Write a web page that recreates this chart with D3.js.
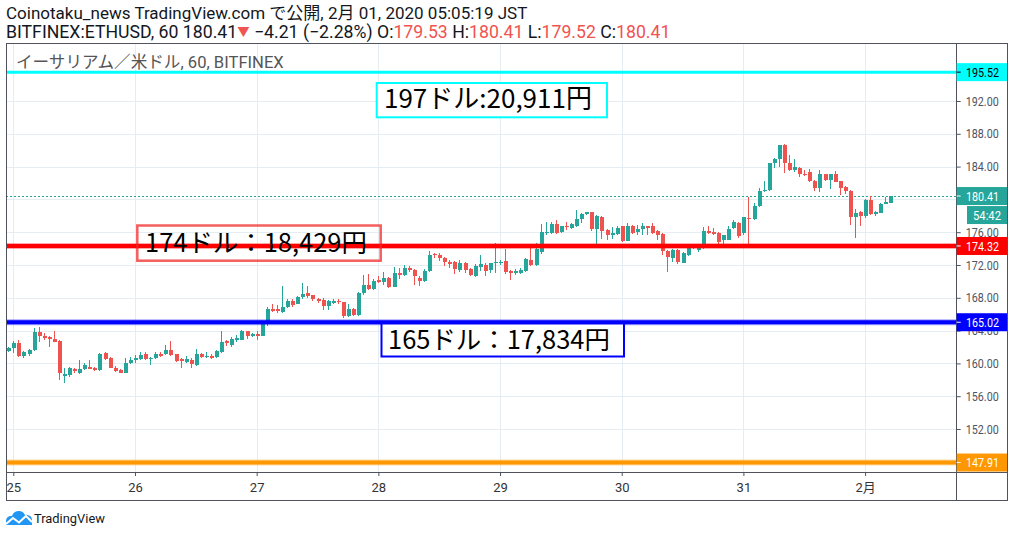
<!DOCTYPE html>
<html><head><meta charset="utf-8">
<script src="https://cdn.jsdelivr.net/npm/d3@7"></script>
<style>body{margin:0;background:#fff}svg{display:block}</style>
</head><body><svg id="c" width="1014" height="537"></svg>
<script>
// ---- data ----
const firstCandle = "2020-01-24T23:00:00Z"; // hourly candles (JST wall clock)
const opens = [161.55,161.9,162.5,160.95,161.1,161.6,163.85,163.35,163.25,162.95,162.7,
158.5,158.6,159.3,158.8,159.3,159.6,159.5,159.2,161.3,160.6,
159.5,159.2,158.8,160.0,160.4,160.5,161.2,160.5,160.7,161.2,
161.1,161.6,161.1,160.5,160.2,160.4,159.8,161.15,160.8,160.9,
160.75,161.4,162.75,162.25,162.9,162.9,163.95,163.4,163.6,163.4,
164.8,166.6,166.6,166.3,166.9,167.6,167.3,168.05,168.6,168.3,
167.8,167.7,167.05,167.4,167.6,167.45,165.8,166.65,165.9,168.6,
169.55,169.05,170.15,169.95,170.4,169.35,171.05,170.8,171.6,171.4,
170.4,170.05,171.3,173.3,173.2,172.8,172.4,172.35,171.45,172.2,
171.5,170.65,171.8,172.0,171.4,172.2,172.2,172.5,171.3,171.0,
171.0,171.3,172.6,172.0,173.6,175.9,175.9,177.0,176.0,176.7,
176.5,176.8,177.6,178.2,178.45,176.4,177.9,176.3,175.6,175.75,
176.7,174.95,176.7,176.05,176.35,176.7,176.7,176.15,175.8,173.7,
172.9,173.85,172.3,173.2,174.3,173.8,174.05,176.15,176.05,175.95,
175.05,175.1,176.55,177.15,175.95,177.7,177.6,179.25,181.0,181.15,
184.4,184.9,186.6,184.4,183.6,183.8,183.1,183.4,182.25,181.35,
183.05,182.35,183.05,182.25,181.55,181.0,177.9,178.5,178.0,179.9,
178.2,178.4,179.5,179.53];
const highs = [162.0,162.7,162.8,161.5,161.7,164.3,164.5,163.7,163.4,164.0,162.8,
159.4,159.6,159.4,160.4,160.0,160.4,159.6,161.3,161.35,160.8,
159.7,159.3,160.7,160.8,161.0,161.4,161.4,160.8,161.4,161.4,
162.25,162.75,161.2,160.6,160.9,160.6,161.8,161.3,161.4,161.2,
161.6,163.95,162.8,163.25,163.45,164.05,164.0,163.7,163.95,164.9,
166.9,167.3,167.1,169.4,167.9,167.8,168.2,169.8,169.4,168.4,
168.0,168.0,167.7,167.8,167.8,167.5,167.2,166.8,168.7,170.8,
170.9,170.3,170.7,171.2,170.5,171.7,171.6,172.0,171.9,171.5,
170.6,171.5,173.7,173.5,173.5,173.0,172.6,172.5,172.6,172.4,
171.6,172.1,173.2,172.2,172.3,174.65,172.6,174.0,171.4,171.5,
171.6,172.8,174.2,174.7,177.0,177.3,177.2,177.5,176.8,177.2,
177.1,178.7,178.3,178.5,178.5,178.1,178.0,176.4,176.6,176.7,
176.8,177.1,176.9,176.9,177.1,176.8,177.1,176.3,175.9,173.8,
174.0,173.9,173.6,174.6,174.5,174.3,176.6,176.7,176.5,176.0,
175.7,176.7,177.5,177.3,177.9,180.35,179.6,181.4,182.2,184.5,
185.0,186.65,186.7,185.4,184.9,183.9,183.6,183.7,182.4,183.6,
183.1,183.1,183.5,182.3,181.6,181.1,178.8,178.6,180.0,180.4,
178.6,179.6,180.3,180.41];
const lows = [161.4,161.3,160.8,160.6,160.9,161.5,162.65,162.9,162.05,162.6,158.0,
157.65,158.4,158.8,158.7,159.2,159.3,159.1,159.1,160.4,159.4,
159.0,158.8,158.8,159.9,160.0,160.4,160.4,159.8,160.5,160.8,
161.0,160.9,160.2,159.5,160.1,159.5,159.7,160.6,160.6,160.5,
160.6,161.3,162.1,162.05,162.6,162.8,163.0,163.2,162.85,163.35,
164.6,166.3,166.1,166.2,166.8,166.9,167.2,167.9,168.0,167.6,
167.4,166.5,166.5,167.2,167.3,165.5,165.6,165.8,165.8,168.4,
168.9,168.9,169.8,169.6,169.2,169.3,170.3,170.7,171.1,169.6,
169.5,169.9,171.2,172.9,172.5,171.9,171.6,170.9,171.2,171.0,
170.6,170.5,171.3,170.7,171.0,171.0,172.0,170.9,170.2,170.8,
170.9,171.2,171.9,171.9,173.3,175.7,175.8,175.8,175.9,176.3,
176.4,176.6,177.1,178.1,176.2,174.6,175.2,175.1,175.2,175.6,
174.8,174.9,175.8,175.7,175.6,175.6,175.8,175.0,173.2,171.1,
172.4,172.1,172.2,173.1,173.9,173.6,173.9,175.8,175.6,174.6,
174.6,175.0,176.4,175.3,175.7,174.25,177.5,179.1,180.9,181.0,
183.8,183.9,183.2,183.5,183.4,182.7,182.9,182.1,181.0,180.9,
182.3,181.3,182.1,180.5,180.6,176.9,175.25,176.8,177.7,178.1,
178.0,178.3,179.4,179.52];
const closes = [161.92,162.45,160.85,161.4,161.6,163.85,163.35,163.05,162.95,162.65,158.8,
158.65,159.5,159.05,159.3,159.8,159.3,159.2,161.15,160.5,159.5,
159.1,158.8,160.0,160.4,160.6,161.0,160.5,160.7,161.2,160.95,
161.6,161.0,160.35,160.3,160.5,159.9,161.15,160.75,160.9,160.7,
161.5,162.65,162.5,163.0,163.15,164.0,163.4,163.6,163.4,164.8,
166.6,166.4,166.4,166.9,167.6,167.1,168.05,168.5,168.2,167.8,
167.6,167.05,167.6,167.6,167.5,165.8,166.65,165.9,168.6,169.55,
169.05,170.05,169.95,170.4,169.35,171.05,170.8,171.6,171.4,170.6,
170.05,171.3,173.2,173.2,172.8,172.35,172.1,171.5,172.2,171.4,
170.8,171.9,172.1,171.3,172.2,172.4,172.4,171.2,171.0,171.3,
171.4,172.7,172.0,173.95,176.0,176.0,177.0,175.9,176.7,176.6,
177.0,177.6,178.2,178.45,176.4,178.0,176.2,175.6,175.95,176.55,
174.95,176.7,175.95,176.4,176.7,176.5,175.95,175.6,173.65,173.0,
173.85,172.4,173.45,174.3,174.05,174.25,176.15,175.95,175.75,174.85,
175.65,176.45,177.2,175.55,177.85,177.6,179.25,181.0,181.15,184.4,
184.9,186.6,184.5,183.6,183.9,183.05,183.0,182.25,181.35,183.05,
182.35,183.05,182.15,181.35,181.0,177.9,178.4,178.0,179.9,178.2,
178.5,179.5,179.7,180.41];
const dayDates = ["2020-01-25","2020-01-26","2020-01-27","2020-01-28","2020-01-29","2020-01-30","2020-01-31","2020-02-01"];
const dayLabels = ["25","26","27","28","29","30","31","2月"];
const priceTicks = [192,188,184,180,176,172,168,164,160,156,152,148];
const levelValues = [195.52, 174.32, 165.02, 147.91];
const lastPrice = 180.41;
const countdown = "54:42";
const annotationTexts = ["197ドル:20,911円", "174ドル：18,429円", "165ドル：17,834円"];
const titleText = "Coinotaku_news TradingView.com で公開, 2月 01, 2020 05:05:19 JST";
const legendText = "イーサリアム／米ドル, 60, BITFINEX";

// ---- drawing ----
const svg = d3.select("#c");
const L = 6, R = 956.7, T = 43, B = 472, RB = 1007, BB = 500;
const t0 = new Date(firstCandle).getTime();
const HOUR = 3600e3;
const dayStart = new Date("2020-01-25T00:00:00Z").getTime();
const x = d3.scaleUtc()
  .domain([new Date(dayStart - 1.44 * HOUR), new Date(dayStart + 186.07 * HOUR)])
  .range([L, R]);
const y = d3.scaleLinear().domain([192, 152]).range([101, 429]);
const candles = opens.map((o, i) => ({t: new Date(t0 + i * HOUR), o, h: highs[i], l: lows[i], c: closes[i]}));
const UP = "#26a69a", DN = "#ef5350";
const AXIS = "#50535e";
const FONT = "Roboto, 'Noto Sans CJK JP', sans-serif";

function fit(sel, w) {
  const n = sel.node();
  const f = parseFloat(sel.attr("font-size"));
  const m = n.getComputedTextLength();
  if (m > 0) sel.attr("font-size", f * w / m);
}

svg.append("rect").attr("width", 1014).attr("height", 537).attr("fill", "#fff");

svg.append("defs").append("clipPath").attr("id", "plot")
  .append("rect").attr("x", L).attr("y", T).attr("width", R - L).attr("height", B - T);

const plot = svg.append("g").attr("clip-path", "url(#plot)");

// grid
plot.append("g").selectAll("line").data(priceTicks).join("line")
  .attr("x1", L).attr("x2", R)
  .attr("y1", d => Math.round(y(d)) + 0.5).attr("y2", d => Math.round(y(d)) + 0.5)
  .attr("stroke", "#e6edf2").attr("stroke-width", 1);
const days = dayDates.map(d => new Date(d + "T00:00:00Z"));
plot.append("g").selectAll("line").data(days).join("line")
  .attr("y1", T).attr("y2", B)
  .attr("x1", d => Math.round(x(d)) + 0.5).attr("x2", d => Math.round(x(d)) + 0.5)
  .attr("stroke", "#e6edf2").attr("stroke-width", 1);

// last price dotted line
plot.append("line").attr("x1", L).attr("x2", R)
  .attr("y1", Math.round(y(lastPrice)) + 0.5).attr("y2", Math.round(y(lastPrice)) + 0.5)
  .attr("stroke", UP).attr("stroke-width", 1).attr("stroke-dasharray", "2,2");

// candles
const cg = plot.append("g").attr("shape-rendering", "crispEdges");
cg.selectAll("line").data(candles).join("line")
  .attr("x1", d => Math.round(x(d.t)) + 0.5).attr("x2", d => Math.round(x(d.t)) + 0.5)
  .attr("y1", d => y(d.h)).attr("y2", d => y(d.l))
  .attr("stroke", d => d.c >= d.o ? UP : DN).attr("stroke-width", 1);
cg.selectAll("rect").data(candles).join("rect")
  .attr("x", d => Math.round(x(d.t)) - 1.5)
  .attr("width", 4)
  .attr("y", d => y(Math.max(d.o, d.c)))
  .attr("height", d => Math.max(1, Math.abs(y(d.o) - y(d.c))))
  .attr("fill", d => d.c >= d.o ? UP : DN);

// horizontal level lines
const levelStyle = [
  {c: "#00ffff", w: 3, halo: 0},
  {c: "#ff0000", w: 4, halo: 6},
  {c: "#0000ff", w: 4, halo: 6},
  {c: "#ff9800", w: 4, halo: 6}
];
levelValues.forEach((v, i) => {
  const s = levelStyle[i];
  if (s.halo) plot.append("line").attr("x1", L).attr("x2", R).attr("y1", y(v)).attr("y2", y(v))
    .attr("stroke", s.c).attr("stroke-opacity", 0.35).attr("stroke-width", s.halo);
  plot.append("line").attr("x1", L).attr("x2", R).attr("y1", y(v)).attr("y2", y(v))
    .attr("stroke", s.c).attr("stroke-width", s.w);
});

// annotation boxes
const boxes = [
  {x: 376.7, y: 83, w: 230.3, h: 34.3, stroke: "#00ffff", fill: "#fff", sw: 2, tx: 384, ty: 107.5, tw: 208},
  {x: 137.3, y: 225.5, w: 243.4, h: 35.2, stroke: "rgba(240,40,40,0.75)", fill: "none", sw: 2.5, tx: 145, ty: 251.5, tw: 222},
  {x: 381.5, y: 323.5, w: 242.5, h: 33, stroke: "#0000ff", fill: "#fff", sw: 2, tx: 388, ty: 348.5, tw: 222}
];
boxes.forEach((b, i) => {
  plot.append("rect").attr("x", b.x).attr("y", b.y).attr("width", b.w).attr("height", b.h)
    .attr("fill", b.fill).attr("stroke", b.stroke).attr("stroke-width", b.sw);
  const t = plot.append("text").attr("x", b.tx).attr("y", b.ty)
    .attr("font-family", "'Noto Sans CJK JP', sans-serif").attr("font-size", 24)
    .attr("fill", "#000").text(annotationTexts[i]);
  fit(t, b.tw);
});

// legend
const lg = svg.append("text").attr("x", 16).attr("y", 68).attr("font-family", FONT)
  .attr("font-size", 15).attr("fill", "#555").text(legendText);
fit(lg, 268);

// frame
const frame = svg.append("g").attr("stroke", AXIS).attr("stroke-width", 1).attr("shape-rendering", "crispEdges");
frame.append("rect").attr("x", L).attr("y", T).attr("width", RB - L).attr("height", BB - T).attr("fill", "none");
frame.append("line").attr("x1", R).attr("x2", R).attr("y1", T).attr("y2", BB);
frame.append("line").attr("x1", L).attr("x2", RB).attr("y1", B).attr("y2", B);

// price axis (ticks fully hidden behind a price label are skipped, as in the original)
const covered = v => levelValues.concat([lastPrice]).some(p => Math.abs(y(p) - y(v)) < 5);
const ya = svg.append("g").attr("transform", `translate(${R},0)`)
  .call(d3.axisRight(y).tickValues(priceTicks.filter(v => !covered(v))).tickSize(4).tickPadding(5).tickFormat(d3.format(".2f")));
ya.select(".domain").remove();
ya.selectAll(".tick line").attr("stroke", AXIS);
ya.selectAll(".tick text").attr("fill", AXIS).attr("font-family", FONT).attr("font-size", 13)
  .attr("textLength", 33).attr("lengthAdjust", "spacingAndGlyphs");

// time axis
const xa = svg.append("g").attr("transform", `translate(0,${B})`)
  .call(d3.axisBottom(x).tickValues(days).tickSize(4).tickPadding(7).tickFormat((d, i) => dayLabels[i]));
xa.select(".domain").remove();
xa.selectAll(".tick line").attr("stroke", AXIS);
xa.selectAll(".tick text").attr("fill", "#333").attr("font-family", FONT).attr("font-size", 13);

// price labels on axis
const labelStyle = [
  {bg: "#00ffff", fg: "#000"},
  {bg: "#ff0000", fg: "#fff"},
  {bg: "#0000ff", fg: "#fff"},
  {bg: "#ff9800", fg: "#fff"}
];
function priceLabel(v, bg, fg, txt) {
  const cy = y(v);
  const g = svg.append("g");
  g.append("rect").attr("x", R).attr("y", cy - 9).attr("width", RB - R).attr("height", 18).attr("fill", bg);
  g.append("line").attr("x1", R).attr("x2", R + 4).attr("y1", cy).attr("y2", cy).attr("stroke", fg);
  g.append("text").attr("x", 966).attr("y", cy + 4.6).attr("fill", fg).attr("font-family", FONT)
    .attr("font-size", 13).attr("textLength", 33).attr("lengthAdjust", "spacingAndGlyphs").text(txt);
}
levelValues.forEach((v, i) => priceLabel(v, labelStyle[i].bg, labelStyle[i].fg, d3.format(".2f")(v)));
priceLabel(lastPrice, UP, "#fff", d3.format(".2f")(lastPrice));
// countdown box
const cdy = y(lastPrice) + 10;
svg.append("rect").attr("x", 967).attr("y", cdy).attr("width", RB - 967).attr("height", 18).attr("fill", UP);
svg.append("text").attr("x", 987).attr("y", cdy + 13.6).attr("text-anchor", "middle").attr("fill", "#fff")
  .attr("font-family", FONT).attr("font-size", 13).attr("textLength", 28).attr("lengthAdjust", "spacingAndGlyphs").text(countdown);

// header
const h1 = svg.append("text").attr("x", 6).attr("y", 19).attr("font-family", FONT)
  .attr("font-size", 15).attr("fill", "#131722").text(titleText);
fit(h1, 522);
const RED = "#f05350";
const h2 = svg.append("text").attr("x", 6).attr("y", 38).attr("font-family", FONT)
  .attr("font-size", 15).attr("fill", "#131722");
const last = candles[candles.length - 1];
const parts = [
  ["BITFINEX:ETHUSD, 60 " + d3.format(".2f")(lastPrice), null],
  ["▼", RED, "0.7em"],
  [" −4.21 (−2.28%) O:", null],
  [d3.format(".2f")(last.o), RED],
  [" H:", null],
  [d3.format(".2f")(last.h), RED],
  [" L:", null],
  [d3.format(".2f")(last.l), RED],
  [" C:", null],
  [d3.format(".2f")(last.c), RED]
];
parts.forEach(p => {
  const ts = h2.append("tspan").text(p[0]);
  if (p[1]) ts.attr("fill", p[1]);
  if (p[2]) ts.attr("font-size", p[2]).attr("dy", "-0.15em");
  else if (p[0] === " −4.21 (−2.28%) O:") ts.attr("dy", "0.105em");
});
fit(h2, 665);

// TradingView logo
const logo = svg.append("g");
logo.append("path").attr("fill", "#2196f3")
  .attr("d", "M6,525 L6,521 A5,5 0 0 1 12,516 A7,7 0 0 1 25,515 A5.5,5.5 0 0 1 32,521 L32,525 Z");
logo.append("polyline").attr("points", "6,524 13,518 19,522.5 26,516 32,522")
  .attr("fill", "none").attr("stroke", "#fff").attr("stroke-width", 2);
const tv = svg.append("text").attr("x", 34).attr("y", 523).attr("font-family", FONT)
  .attr("font-size", 14).attr("fill", "#131722").text("TradingView");
fit(tv, 71);
</script></body></html>
